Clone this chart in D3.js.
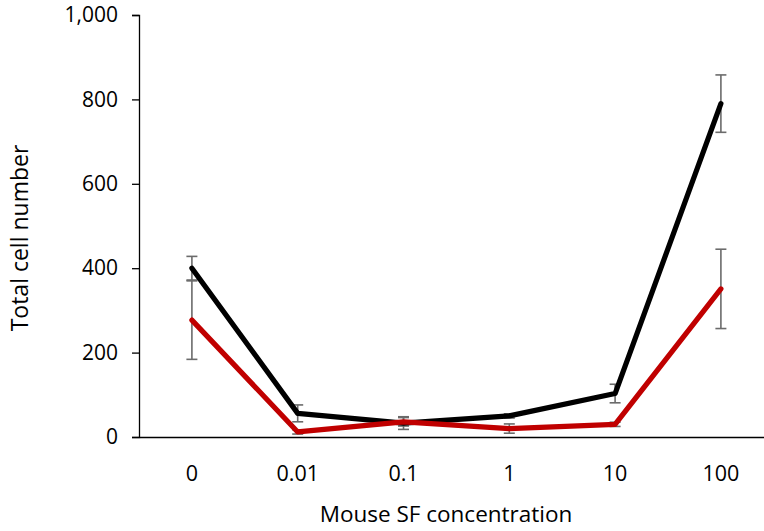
<!DOCTYPE html>
<html>
<head>
<meta charset="utf-8">
<script src="https://cdn.jsdelivr.net/npm/d3@7"></script>
<style>
  body { margin:0; background:#fff; }
  svg text { font-family:"Open Sans", sans-serif; fill:#000; }
</style>
</head>
<body>
<svg id="chart" width="764" height="531"></svg>
<script>
const categories = ["0", "0.01", "0.1", "1", "10", "100"];
const blackValues = [400, 56, 33, 50, 103, 790];
const blackErrors = [28, 20, 15, 5, 22, 68];
const redValues = [277, 12, 36, 20, 30, 351];
const redErrors = [93, 5, 10, 11, 5, 94];
const yTicks = [0, 200, 400, 600, 800, 1000];

const M = { top:15, left:139, bottom:94 };
const W = 764, H = 531;

const svg = d3.select('#chart');

const x = d3.scaleBand().domain(categories).range([M.left, M.left + 6*105.8]);
const y = d3.scaleLinear().domain([0, 1000]).range([H - M.bottom, M.top]);
const cx = d => x(d) + x.bandwidth()/2;

// y axis
const yAxis = svg.append('g')
  .attr('transform', `translate(${M.left},0)`)
  .call(d3.axisLeft(y).tickValues(yTicks).tickSize(7).tickPadding(14)
    .tickFormat(d3.format(',')));
yAxis.select('.domain').attr('stroke','#000').attr('stroke-width',1.3);
yAxis.selectAll('.tick line').attr('stroke','#000').attr('stroke-width',1.3);
yAxis.selectAll('.tick text').style('font-size','21px');

// x axis
const xAxis = svg.append('g')
  .attr('transform', `translate(0,${y(0)})`)
  .call(d3.axisBottom(x).tickSize(0).tickPadding(29));
xAxis.select('.domain').attr('stroke','#000').attr('stroke-width',1.3);
xAxis.selectAll('.tick text').style('font-size','21.5px');

// titles
svg.append('text')
  .attr('x', 446).attr('y', 522)
  .attr('text-anchor','middle')
  .style('font-size','22.5px')
  .text('Mouse SF concentration');

svg.append('text')
  .attr('transform', `translate(28,238) rotate(-90)`)
  .attr('text-anchor','middle')
  .style('font-size','23px')
  .text('Total cell number');

// series
const series = [
  { values: blackValues, errors: blackErrors, color: '#000000' },
  { values: redValues,   errors: redErrors,   color: '#C00000' }
];

series.forEach(s => {
  const pts = categories.map((c, i) => ({ c, v: s.values[i], e: s.errors[i] }));

  const eb = svg.append('g').selectAll('g.err')
    .data(pts)
    .join('g')
      .attr('class','err')
      .attr('stroke','#6b6b6b')
      .attr('stroke-width',1.6);
  eb.append('line')
    .attr('x1', d=>cx(d.c)).attr('x2', d=>cx(d.c))
    .attr('y1', d=>y(d.v + d.e)).attr('y2', d=>y(Math.max(0, d.v - d.e)));
  eb.append('line')
    .attr('x1', d=>cx(d.c)-5.5).attr('x2', d=>cx(d.c)+5.5)
    .attr('y1', d=>y(d.v + d.e)).attr('y2', d=>y(d.v + d.e));
  eb.append('line')
    .attr('x1', d=>cx(d.c)-5.5).attr('x2', d=>cx(d.c)+5.5)
    .attr('y1', d=>y(Math.max(0, d.v - d.e))).attr('y2', d=>y(Math.max(0, d.v - d.e)));
});

series.forEach(s => {
  const pts = categories.map((c, i) => ({ c, v: s.values[i] }));
  svg.append('path')
    .datum(pts)
    .attr('fill','none')
    .attr('stroke', s.color)
    .attr('stroke-width',5.2)
    .attr('stroke-linejoin','round')
    .attr('stroke-linecap','round')
    .attr('d', d3.line().x(d=>cx(d.c)).y(d=>y(d.v)));
});
</script>
</body>
</html>
